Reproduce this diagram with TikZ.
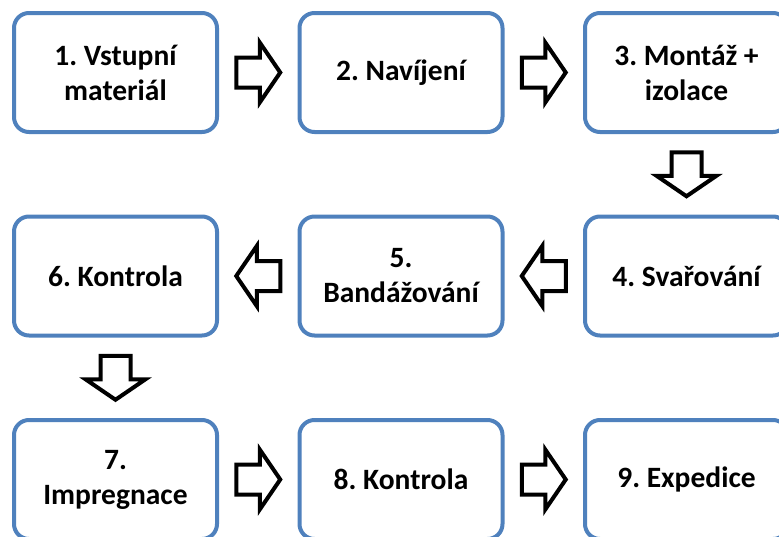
\documentclass[tikz,border=0pt]{standalone}
\usepackage{fontspec}
\setmainfont{Carlito}
\usetikzlibrary{calc}
\definecolor{boxblue}{HTML}{4F81BD}
\frenchspacing
\tikzset{
  stepbox/.style={draw=boxblue, line width=4pt, rounded corners=15pt, fill=white,
    minimum width=203pt, minimum height=119pt, align=center,
    font=\bfseries\fontsize{29.5}{35}\selectfont, inner sep=0pt, outer sep=0pt},
  blockarr/.pic={\draw[line width=4pt, fill=white, line join=miter, draw=black]
    (-22,-15) -- (1.5,-15) -- (1.5,-30) -- (22,0) -- (1.5,30) -- (1.5,15) -- (-22,15) -- cycle;}
}
\begin{document}
\begin{tikzpicture}[x=1pt,y=-1pt]
\useasboundingbox (0,0) rectangle (779,536);
\clip (0,0) rectangle (779,536);
\node[stepbox] (n1) at (115.5,72.5) {1. Vstupní\\materiál};
\node[stepbox] (n2) at (401,72.5) {2. Navíjení};
\node[stepbox] (n3) at (686.5,72.5) {3. Montáž +\\izolace};
\node[stepbox] (n4) at (686.5,276) {4. Svařování};
\node[stepbox] (n5) at (401,276) {5.\\Bandážování};
\node[stepbox] (n6) at (115.5,276) {6. Kontrola};
\node[stepbox] (n7) at (115.5,479.5) {7.\\Impregnace};
\node[stepbox] (n8) at (401,479.5) {8. Kontrola};
\node[stepbox] (n9) at (686.5,479.5) {9. Expedice};
\coordinate (a12) at ($(n1.east)!0.5!(n2.west)$);
\coordinate (a23) at ($(n2.east)!0.5!(n3.west)$);
\coordinate (a34) at ($(n3.south)!0.5!(n4.north)$);
\coordinate (a45) at ($(n4.west)!0.5!(n5.east)$);
\coordinate (a56) at ($(n5.west)!0.5!(n6.east)$);
\coordinate (a67) at ($(n6.south)!0.5!(n7.north)$);
\coordinate (a78) at ($(n7.east)!0.5!(n8.west)$);
\coordinate (a89) at ($(n8.east)!0.5!(n9.west)$);
\pic at (a12) {blockarr};
\pic at (a23) {blockarr};
\pic[rotate=-90] at (a34) {blockarr};
\pic[rotate=180] at (a45) {blockarr};
\pic[rotate=180] at (a56) {blockarr};
\pic[rotate=-90] at (a67) {blockarr};
\pic at (a78) {blockarr};
\pic at (a89) {blockarr};
\end{tikzpicture}
\end{document}
